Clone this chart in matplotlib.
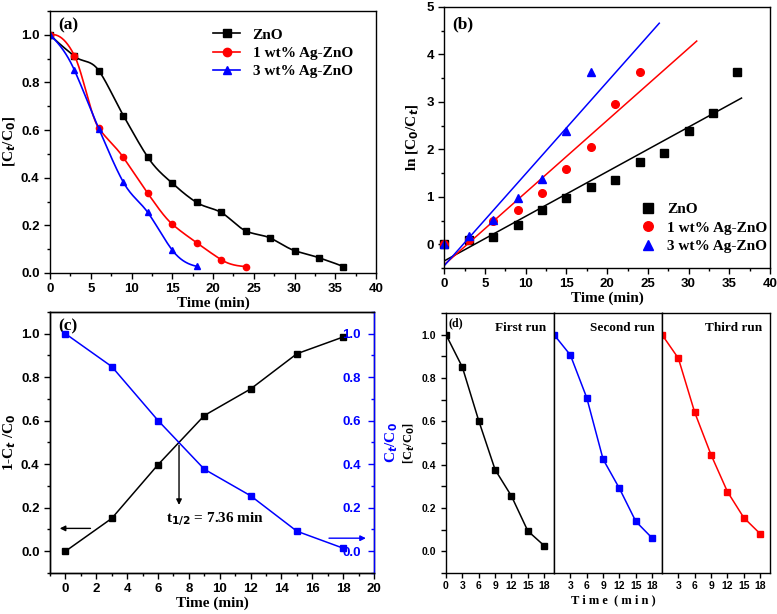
import numpy as np
import matplotlib
matplotlib.use("Agg")
import matplotlib.pyplot as plt
from matplotlib.ticker import MultipleLocator, AutoMinorLocator

# ---------------- data ----------------
t_zno = [0, 3, 6, 9, 12, 15, 18, 21, 24, 27, 30, 33, 36]
c_zno = [1.0, 0.91, 0.849, 0.661, 0.486, 0.377, 0.296, 0.254, 0.177, 0.147, 0.094, 0.064, 0.027]
t_ag1 = [0, 3, 6, 9, 12, 15, 18, 21, 24]
c_ag1 = [1.0, 0.912, 0.607, 0.485, 0.334, 0.205, 0.127, 0.056, 0.027]
t_ag3 = [0, 3, 6, 9, 12, 15, 18]
c_ag3 = [1.0, 0.851, 0.605, 0.381, 0.254, 0.096, 0.028]

ln_zno = [0.0, 0.09, 0.16, 0.41, 0.73, 0.97, 1.21, 1.36, 1.73, 1.92, 2.39, 2.76, 3.64]
ln_ag1 = [0.0, 0.09, 0.50, 0.73, 1.09, 1.58, 2.06, 2.95, 3.64]
ln_ag3 = [0.0, 0.17, 0.51, 0.98, 1.38, 2.38, 3.64]
fit_slope = [0.094, 0.152, 0.1935]
fit_intercept = [-0.35, -0.43, -0.45]
fit_end = [36.5, 31.0, 26.4]

t_c = [0, 3, 6, 9, 12, 15, 18]
one_minus = [0.0, 0.151, 0.398, 0.624, 0.746, 0.908, 0.985]
ct_c0 = [1.0, 0.849, 0.601, 0.377, 0.255, 0.092, 0.014]
t_half = 7.36

t_run = [0, 3, 6, 9, 12, 15, 18]
run1 = [1.0, 0.85, 0.603, 0.377, 0.255, 0.094, 0.026]
run2 = [1.0, 0.906, 0.709, 0.425, 0.290, 0.138, 0.061]
run3 = [1.0, 0.891, 0.641, 0.445, 0.275, 0.155, 0.081]
run_names = ["First run", "Second run", "Third run"]
labels = ["ZnO", "1 wt% Ag-ZnO", "3 wt% Ag-ZnO"]


def akima(x, y, n=300):
    """Smooth curve through the measured points (Akima spline) for drawing only."""
    x = np.asarray(x, float); y = np.asarray(y, float)
    h = np.diff(x); m = np.diff(y) / h
    mm = np.concatenate([[3 * m[0] - 2 * m[1], 2 * m[0] - m[1]], m,
                         [2 * m[-1] - m[-2], 3 * m[-1] - 2 * m[-2]]])
    N = len(x); t = np.zeros(N)
    for i in range(N):
        m1, m2, m3, m4 = mm[i], mm[i + 1], mm[i + 2], mm[i + 3]
        w1 = abs(m4 - m3); w2 = abs(m2 - m1)
        t[i] = (m2 + m3) / 2 if (w1 + w2) < 1e-12 else (w1 * m2 + w2 * m3) / (w1 + w2)
    xs = np.linspace(x[0], x[-1], n)
    idx = np.clip(np.searchsorted(x, xs) - 1, 0, N - 2)
    hh = h[idx]; s = (xs - x[idx]) / hh
    h00 = 2 * s**3 - 3 * s**2 + 1; h10 = s**3 - 2 * s**2 + s
    h01 = -2 * s**3 + 3 * s**2; h11 = s**3 - s**2
    ys = h00 * y[idx] + h10 * hh * t[idx] + h01 * y[idx + 1] + h11 * hh * t[idx + 1]
    return xs, ys


SERIF = "Liberation Serif"
plt.rcParams["font.family"] = "sans-serif"
plt.rcParams["font.sans-serif"] = ["Liberation Sans"]
plt.rcParams["font.weight"] = "bold"
plt.rcParams["axes.linewidth"] = 1.0

fig = plt.figure(figsize=(7.77, 6.14), dpi=100)


def style(ax, fs=9.5):
    ax.tick_params(which="major", direction="out", top=False, right=False, labelsize=fs, width=1.0, length=4)
    ax.tick_params(which="minor", direction="out", top=False, right=False, width=1.0, length=2.5)


LBL = dict(family=SERIF, fontsize=11, fontweight="bold")

# ---------------- (a) ----------------
axa = fig.add_axes([0.0644, 0.5554, 0.4195, 0.4267])
cols = ["black", "red", "blue"]
mks = ["s", "o", "^"]
for t, c, col, mk, lab in zip([t_zno, t_ag1, t_ag3], [c_zno, c_ag1, c_ag3], cols, mks, labels):
    xs, ys = akima(t, c)
    axa.plot(xs, ys, color=col, lw=1.2)
    axa.plot(t, c, linestyle="none", marker=mk, color=col, ms=4.5)
    axa.plot([], [], color=col, marker=mk, ms=6, lw=1.2, label=lab)
axa.set_xlim(0, 40); axa.set_ylim(0, 1.1)
axa.xaxis.set_major_locator(MultipleLocator(5)); axa.xaxis.set_minor_locator(AutoMinorLocator(2))
axa.yaxis.set_major_locator(MultipleLocator(0.2)); axa.yaxis.set_minor_locator(AutoMinorLocator(2))
style(axa)
axa.set_xlabel("Time (min)", labelpad=1, **LBL)
axa.set_ylabel("[C$_t$/C$_0$]", labelpad=2, **LBL)
axa.text(0.025, 0.975, "(a)", transform=axa.transAxes, family=SERIF, fontsize=12.5, fontweight="bold", va="top")
axa.legend(loc="upper right", frameon=False, prop={"family": SERIF, "weight": "bold", "size": 11},
           handlelength=1.8, borderaxespad=0.8, labelspacing=0.3, bbox_to_anchor=(0.985, 1.005))

# ---------------- (b) ----------------
axb = fig.add_axes([0.5718, 0.5635, 0.4192, 0.4251])
for t, l, col, mk, lab, sl, ic, te in zip([t_zno, t_ag1, t_ag3], [ln_zno, ln_ag1, ln_ag3], cols, mks, labels,
                                          fit_slope, fit_intercept, fit_end):
    xx = np.array([0.0, te])
    axb.plot(xx, sl * xx + ic, color=col, lw=1.1)
    axb.plot(t, l, linestyle="none", marker=mk, color=col, ms=5.5, label=lab, clip_on=False)
axb.set_xlim(0, 40); axb.set_ylim(-0.5, 5)
axb.xaxis.set_major_locator(MultipleLocator(5)); axb.xaxis.set_minor_locator(AutoMinorLocator(2))
axb.yaxis.set_major_locator(MultipleLocator(1)); axb.yaxis.set_minor_locator(AutoMinorLocator(2))
style(axb)
axb.set_xlabel("Time (min)", labelpad=1, **LBL)
axb.set_ylabel("ln [C$_0$/C$_t$]", labelpad=4, **LBL)
axb.text(0.025, 0.965, "(b)", transform=axb.transAxes, family=SERIF, fontsize=12.5, fontweight="bold", va="top")
axb.legend(loc="lower right", frameon=False, prop={"family": SERIF, "weight": "bold", "size": 11},
           handlelength=1.0, markerscale=1.25, labelspacing=0.3, bbox_to_anchor=(1.035, 0.005))

# ---------------- (c) ----------------
axc = fig.add_axes([0.0644, 0.0668, 0.417, 0.4251])
axc.plot(t_c, one_minus, color="black", marker="s", ms=4, lw=1.1)
axc.set_xlim(-1, 20); axc.set_ylim(-0.1, 1.1)
axc.xaxis.set_major_locator(MultipleLocator(2)); axc.xaxis.set_minor_locator(AutoMinorLocator(2))
axc.yaxis.set_major_locator(MultipleLocator(0.2)); axc.yaxis.set_minor_locator(AutoMinorLocator(2))
style(axc)
axc.set_xlabel("Time (min)", labelpad=1, **LBL)
axc.set_ylabel("1-C$_t$ /C$_0$", labelpad=2, **LBL)
axc.text(0.025, 0.975, "(c)", transform=axc.transAxes, family=SERIF, fontsize=12.5, fontweight="bold", va="top")
axc2 = axc.twinx()
axc2.plot(t_c, ct_c0, color="blue", marker="s", ms=4, lw=1.1)
axc2.set_ylim(-0.1, 1.1)
axc2.yaxis.set_major_locator(MultipleLocator(0.2)); axc2.yaxis.set_minor_locator(AutoMinorLocator(2))
axc2.tick_params(axis="y", which="major", direction="in", colors="blue", labelsize=9.5,
                 width=1.0, length=4, pad=-23)
axc2.tick_params(axis="y", which="minor", direction="in", colors="blue", width=1.0, length=2.5)
axc2.spines["right"].set_color("blue")
axc2.set_ylabel("C$_t$/C$_0$", color="blue", **LBL)
axc2.yaxis.set_label_coords(1.03, 0.5)
axc.annotate("", xy=(t_half, 0.2), xytext=(t_half, 0.5),
             arrowprops=dict(arrowstyle="-|>", color="black", lw=1.0, mutation_scale=8))
axc.text(6.5, 0.135, "t$_{1/2}$ = 7.36 min", family=SERIF, fontsize=11, fontweight="bold")
axc.annotate("", xy=(-0.55, 0.105), xytext=(1.8, 0.105),
             arrowprops=dict(arrowstyle="-|>", color="black", lw=1.0, mutation_scale=8))
axc.annotate("", xy=(19.65, 0.06), xytext=(16.9, 0.06),
             arrowprops=dict(arrowstyle="-|>", color="blue", lw=1.0, mutation_scale=8))

# ---------------- (d) ----------------
left_d = 0.574; w_tot = 0.991 - 0.574; wsub = w_tot / 3
runs = [run1, run2, run3]
rcols = ["black", "blue", "red"]
for i in range(3):
    ax = fig.add_axes([left_d + i * wsub, 0.0668, wsub, 0.4234])
    ax.plot(t_run, runs[i], color=rcols[i], marker="s", ms=5, lw=1.1, clip_on=True)
    ax.set_xlim(0, 19.8); ax.set_ylim(-0.1, 1.1)
    ax.set_xticks([0, 3, 6, 9, 12, 15, 18] if i == 0 else [3, 6, 9, 12, 15, 18])
    ax.tick_params(which="both", direction="out", labelsize=7.5, width=1.0, length=3.5)
    ax.xaxis.set_tick_params(pad=2)
    if i == 0:
        ax.yaxis.set_major_locator(MultipleLocator(0.2)); ax.yaxis.set_minor_locator(AutoMinorLocator(2))
        ax.set_ylabel("[C$_t$/C$_0$]", family=SERIF, fontsize=9, fontweight="bold", labelpad=3)
        ax.text(0.02, 0.985, "(d)", transform=ax.transAxes, family=SERIF, fontsize=8.5, fontweight="bold", va="top")
    else:
        ax.tick_params(axis="y", left=False, labelleft=False)
    ax.text(0.93, 0.965, run_names[i], transform=ax.transAxes, family=SERIF, fontsize=9.5,
            fontweight="bold", va="top", ha="right")
fig.text((left_d + w_tot / 2) + 0.007, 0.013, "T i m e  ( m i n )", family=SERIF, fontsize=9,
         fontweight="bold", ha="center", va="bottom")

fig.savefig("out.png", dpi=100)
